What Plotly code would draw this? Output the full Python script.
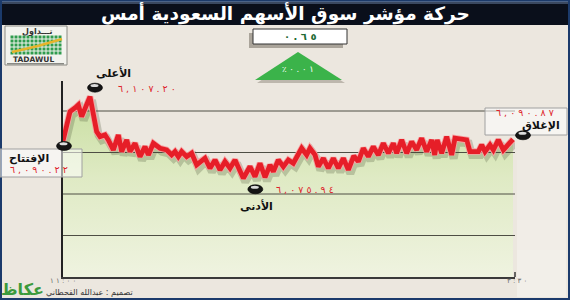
import plotly.graph_objects as go

# ---------------- data ----------------
times = [0, 4.2, 7.2, 9.2, 11.2, 16.2, 20.2, 22.2, 25.2, 27.2, 30.2, 33.2, 35.2, 38.2, 40.2,
         43.2, 46.2, 49.2, 51.2, 54.2, 58.2, 62.2, 65.2, 67.2, 69.2, 71.2, 74.2, 77.2, 80.2,
         82.2, 85.2, 88.2, 91.2, 94.2, 97.2, 100.2, 103.2, 108.2, 112.2, 115.2, 118.2, 121.2,
         124.2, 126.2, 129.2, 132.2, 135.2, 138.2, 141.2, 143.2, 146.2, 148.2, 151.2, 153.2,
         156.2, 159.2, 162.2, 165.2, 168.2, 171.2, 174.5, 177.2, 180.2, 183.2, 186.2, 189.2,
         192.2, 195.2, 198.2, 200.2, 203.2, 206.2, 209.2, 212.2, 215.2, 218.2, 221.2, 223.0,
         224.5, 227.2, 230.2, 233.2, 235.2, 242.2, 244.2, 249.2, 251.2, 253.2, 256.2, 258.2,
         261.2, 264.2, 270]  # minutes after 11:00

index_values = [6090.22, 6101.45, 6102.87, 6104.02, 6099.54, 6107.20, 6093.79, 6091.88, 6092.53,
                6090.62, 6086.79, 6092.53, 6086.14, 6090.62, 6086.14, 6089.35, 6084.22, 6088.05,
                6084.87, 6089.35, 6087.44, 6086.79, 6084.87, 6086.14, 6084.22, 6086.14, 6084.22,
                6085.52, 6081.04, 6082.30, 6083.61, 6079.78, 6082.96, 6079.13, 6082.30, 6079.78,
                6082.96, 6075.94, 6080.42, 6076.56, 6081.69, 6076.30, 6081.04, 6078.48, 6082.96,
                6080.39, 6082.96, 6081.69, 6084.87, 6087.44, 6084.87, 6087.44, 6084.87, 6080.39,
                6083.61, 6079.78, 6083.61, 6079.78, 6083.61, 6079.13, 6084.50, 6082.30, 6087.44,
                6084.22, 6088.05, 6084.87, 6089.35, 6085.52, 6089.35, 6085.52, 6090.62, 6085.52,
                6089.97, 6086.79, 6091.27, 6086.14, 6090.62, 6084.87, 6090.62, 6085.52, 6091.88,
                6084.87, 6091.27, 6090.62, 6086.14, 6086.14, 6088.70, 6086.14, 6088.70, 6086.79,
                6090.62, 6086.79, 6090.87]

x_tick_vals = [0, 270]
x_tick_text = ["١١:٠٠", "٣:٣٠"]

title_text = "حركة مؤشر سوق الأسهم السعودية أمس"
label_open = "الإفتتاح"
label_close = "الإغلاق"
label_high = "الأعلى"
label_low = "الأدنى"
credit_text = "تصميم : عبدالله القحطاني"
change_points = 0.65
change_percent = 0.01

# ---------------- helpers ----------------
AR = str.maketrans("0123456789", "٠١٢٣٤٥٦٧٨٩")
def ar(s):
    return s.translate(AR)

def spaced(s):
    # left-to-right override so the spaced digits keep their order
    return "\u202D" + " ".join(ar(s)) + "\u202C"

W, H = 570, 300
L, R, T, B = 63, 515, 81, 277
Y_MIN, Y_MAX = 6038.1, 6113.2
X_MAX = 271.2
GRID_VALUES = [6054.0, 6069.9, 6085.8, 6101.7]
FONT = "DejaVu Sans"

def fx(x):
    return (x - L) / (R - L)

def fy(y):
    return (B - y) / (B - T)

def dx_paper(t):
    return t / X_MAX

def dy_paper(v):
    return (v - Y_MIN) / (Y_MAX - Y_MIN)

open_v = index_values[0]
close_v = index_values[-1]
high_v = max(index_values)
low_v = min(index_values)
high_t = times[index_values.index(high_v)]
low_t = times[index_values.index(low_v)]

fig = go.Figure()

fig.add_trace(go.Scatter(x=times, y=[Y_MIN] * len(times), mode="lines",
                         line=dict(width=0), hoverinfo="skip", showlegend=False))
fig.add_trace(go.Scatter(x=times, y=index_values, mode="lines", fill="tonexty",
                         line=dict(width=0), hoverinfo="skip", showlegend=False,
                         fillgradient=dict(type="vertical", start=Y_MIN, stop=high_v,
                                           colorscale=[[0, "#eff3e0"], [0.55, "#dfeac4"],
                                                       [1, "#c8dea0"]])))
gx, gy = [], []
for g in GRID_VALUES:
    gx += [0, X_MAX, None]
    gy += [g, g, None]
fig.add_trace(go.Scatter(x=gx, y=gy, mode="lines", line=dict(color="#4e4e44", width=1),
                         hoverinfo="skip", showlegend=False))
shadow_off = 3.5 * (Y_MAX - Y_MIN) / (B - T)
fig.add_trace(go.Scatter(x=[t + 1.2 for t in times], y=[v - shadow_off for v in index_values],
                         mode="lines", line=dict(color="rgba(70,80,50,0.25)", width=8),
                         hoverinfo="skip", showlegend=False))
fig.add_trace(go.Scatter(x=times, y=index_values, mode="lines",
                         line=dict(color="#f7a3a3", width=6.5), hoverinfo="skip", showlegend=False))
fig.add_trace(go.Scatter(x=times, y=index_values, mode="lines",
                         line=dict(color="#e61e28", width=4.8), hoverinfo="skip", showlegend=False))

shapes = []
annotations = []

def rect(x0, y0, x1, y1, fill, line=None, lw=0, layer="above"):
    shapes.append(dict(type="rect", xref="paper", yref="paper",
                       x0=fx(x0), x1=fx(x1), y0=fy(y1), y1=fy(y0),
                       fillcolor=fill, line=dict(color=line or fill, width=lw), layer=layer))

def path(points, fill, layer="above"):
    d = "M " + " L ".join(f"{fx(x):.5f},{fy(y):.5f}" for x, y in points) + " Z"
    shapes.append(dict(type="path", xref="paper", yref="paper", path=d,
                       fillcolor=fill, line=dict(width=0), layer=layer))

def seg(x0, y0, x1, y1, color, lw):
    shapes.append(dict(type="line", xref="paper", yref="paper",
                       x0=fx(x0), x1=fx(x1), y0=fy(y0), y1=fy(y1),
                       line=dict(color=color, width=lw)))

def text(s, x, y, size, color, bold=False, xanchor="center"):
    annotations.append(dict(text=s, xref="paper", yref="paper", x=fx(x), y=fy(y),
                            xanchor=xanchor, yanchor="middle", showarrow=False,
                            font=dict(family=FONT, size=size, color=color,
                                      weight="bold" if bold else "normal")))

def marker(t, v, dx, dy):
    base = dict(type="circle", xref="paper", yref="paper", xsizemode="pixel",
                ysizemode="pixel", xanchor=dx_paper(t), yanchor=dy_paper(v))
    shapes.append(dict(base, x0=dx - 7.5, x1=dx + 7.5, y0=dy - 4.5, y1=dy + 4.5,
                       fillcolor="#151515", line=dict(color="#000", width=0.6)))
    shapes.append(dict(base, x0=dx - 4.5, x1=dx + 3.5, y0=dy + 0.6, y1=dy + 3.6,
                       fillcolor="#dcdcdc", line=dict(width=0)))

# soft lighter zone on the right, fading downward
for k, a in enumerate([0.08, 0.14, 0.2, 0.26, 0.32]):
    rect(517, 130 + k * 30, 566, 160 + k * 30 if k < 4 else 297,
         f"rgba(255,255,255,{a})", layer="below")

# title bar
rect(0, 0, 570, 25, "#0a0f1b")
rect(0, 0, 570, 2, "#7d8ca6")
rect(0, 2, 570, 4, "#3a4860")
text(title_text, 285, 13.5, 18.5, "#ffffff", bold=True)

# outer frame
rect(0.5, 0, 569.5, 299.5, "rgba(0,0,0,0)", line="#1b3a6b", lw=3)

# Tadawul logo
rect(5, 26, 67, 65, "#f3f3ee", line="#8a8a84", lw=1)
text("تـــداول", 37, 31, 8, "#333333", bold=True)
rect(10, 35, 62, 55, "#2f9c4e")
for i in range(14):
    seg(10 + i * 4, 35, 10 + i * 4, 55, "#f3f3ee", 1)
for j in range(6):
    seg(10, 35 + j * 4, 62, 35 + j * 4, "#f3f3ee", 1)
seg(12, 52, 38, 46, "#e6b42a", 2.5)
seg(38, 46, 62, 39, "#e6b42a", 2.5)
text("TADAWUL", 33, 60, 7.5, "#333333", bold=True)
rect(7, 63, 64, 64.5, "#8a8a84")

# change box + triangle
rect(249, 33, 343, 48, "#aaa49a")
rect(253, 29, 347, 44, "#ffffff", line="#333333", lw=1)
text(spaced(f"{change_points:.2f}"), 300, 37, 10, "#1f6b35", bold=True)
path([(257, 83), (345, 83), (300, 55)], "#bdb7ad")
path([(255, 80), (342, 80), (298, 52)], "#3bb34a")
text("\u202D٪ " + " ".join(ar(f"{change_percent:.2f}")) + "\u202C", 298, 69, 8.5, "#ffffff")

# open box
rect(0, 149, 82, 177, "rgba(255,255,255,0.55)", line="#a0a0a0", lw=1)
text(label_open, 29, 158, 11, "#111111", bold=True)
text(spaced(f"{open_v:,.2f}"), 39, 169.5, 9.5, "#de1f2a")
# close box
rect(485, 108, 567, 135, "rgba(255,255,255,0.55)", line="#a0a0a0", lw=1)
text(spaced(f"{close_v:,.2f}"), 525, 112, 9.5, "#de1f2a")
text(label_close, 541, 125.5, 11, "#111111", bold=True)
# high
text(label_high, 113, 73, 11, "#111111", bold=True)
text(spaced(f"{high_v:,.2f}"), 147, 88, 9.5, "#de1f2a")
# low
text(spaced(f"{low_v:,.2f}"), 305, 189.5, 9.5, "#de1f2a")
text(label_low, 256, 206, 11, "#111111", bold=True)

# markers anchored to the data points
marker(times[0], open_v, 1, -5)
marker(times[-1], close_v, 10, 4)
marker(high_t, high_v, 5, 9)
marker(low_t, low_v, 12, -11)

# x-axis end tick
seg(515, 272, 515, 277, "#3a3a3a", 1.5)

# x tick labels
for tv, tt in zip(x_tick_vals, x_tick_text):
    annotations.append(dict(text="\u202D" + " ".join(tt) + "\u202C", xref="x", yref="paper",
                            x=tv, y=fy(281), xanchor="center", yanchor="middle",
                            showarrow=False, xshift=4 if tv else 0,
                            font=dict(family=FONT, size=7, color="#6a6a6a")))

# credits and Okaz logo
text(credit_text, 44, 292.5, 8, "#333333", xanchor="left")
text("عكاظ", 22, 289, 16, "#3c9a3c", bold=True)

fig.update_layout(
    width=W, height=H,
    margin=dict(l=L, r=W - R, t=T, b=H - B, pad=0),
    paper_bgcolor="#ece7df", plot_bgcolor="#ece7df",
    showlegend=False,
    shapes=shapes, annotations=annotations,
    xaxis=dict(range=[0, X_MAX], showgrid=False, zeroline=False, showticklabels=False,
               ticks="", showline=True, linecolor="#3a3a3a", linewidth=2, fixedrange=True),
    yaxis=dict(range=[Y_MIN, Y_MAX], showgrid=False, zeroline=False, showticklabels=False,
               ticks="", showline=True, linecolor="#222222", linewidth=1.5, fixedrange=True),
)

fig.write_html("out.html", config={"displayModeBar": False})
